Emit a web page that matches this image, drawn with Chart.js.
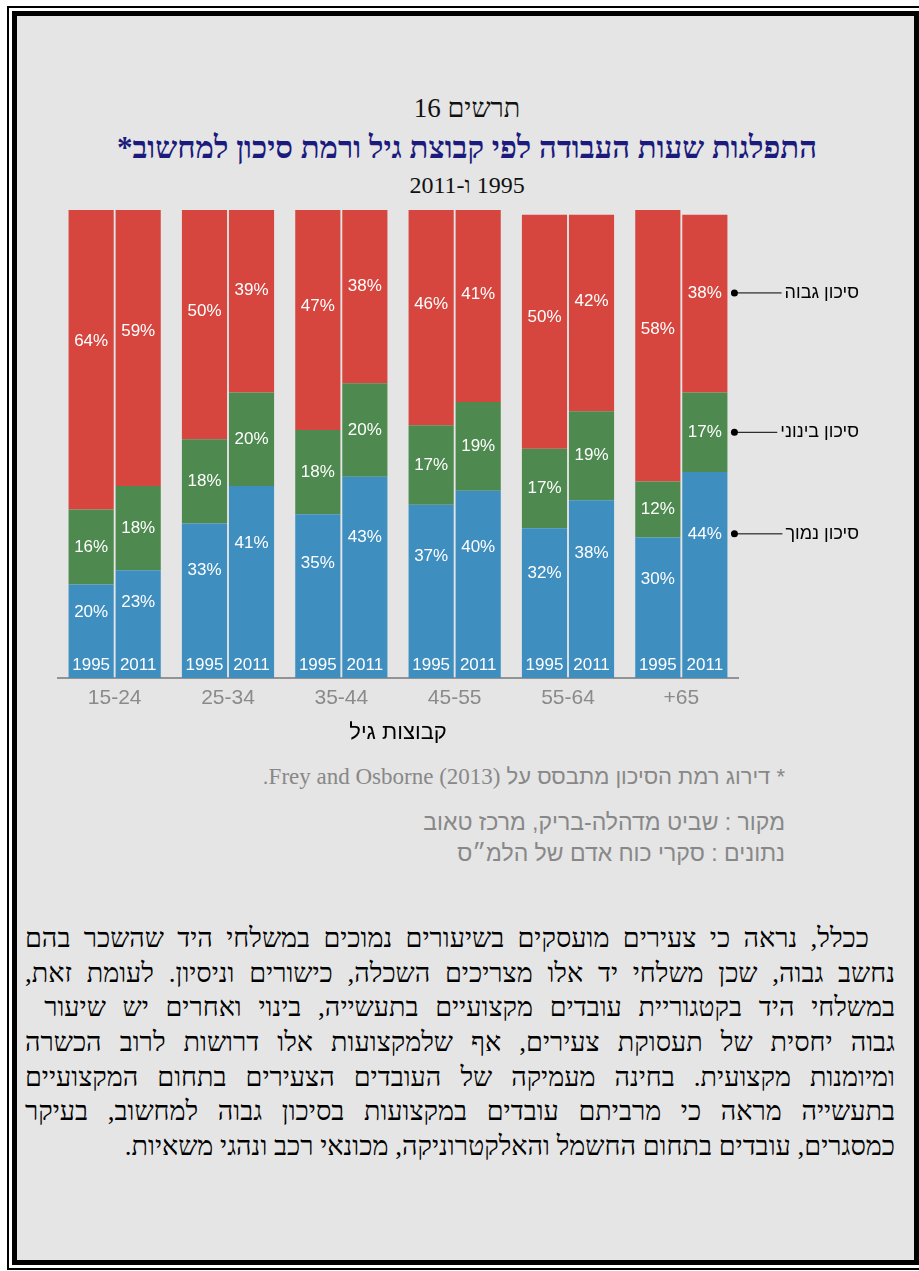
<!DOCTYPE html>
<html lang="he" dir="rtl">
<head>
<meta charset="utf-8">
<title>תרשים 16</title>
<script src="https://cdn.jsdelivr.net/npm/chart.js@4"></script>
<style>
  html, body { margin: 0; padding: 0; background: #fff; width: 919px; height: 1271px; overflow: hidden; }
  .frame-out { position: absolute; left: 7px; top: 6px; width: 930px; height: 1264px; border: 2px solid #000; box-sizing: border-box; }
  .frame-in { position: absolute; left: 12px; top: 11px; width: 907px; height: 1254px; border: 5px solid #000; box-sizing: border-box; background: #e5e5e5; }
  .txt { position: absolute; white-space: nowrap; }
  .center { left: 0; width: 934px; text-align: center; }
  #fig-no { top: 92px; font: 27px "Liberation Serif", serif; color: #111; line-height: 32px; }
  #fig-title { top: 130px; font: bold 31px "Liberation Serif", serif; color: #1b1b7e; line-height: 36px; }
  #fig-years { top: 169px; font: 24px "Liberation Serif", serif; color: #111; line-height: 32px; }
  #chart-box { position: absolute; left: 0; top: 200px; width: 919px; height: 550px; }
  .note { right: 134px; color: #888; font-family: "Liberation Sans", Arial, sans-serif; }
  .note .en { font-family: "Liberation Serif", serif; font-size: 23px; }
  #note1 { top: 763px; font-size: 22px; line-height: 28px; }
  #note2 { top: 808px; font-size: 23px; line-height: 28px; }
  #note3 { top: 839px; font-size: 23px; line-height: 28px; }
  #para { position: absolute; left: 25px; top: 921px; width: 870px; font: 27px "Liberation Serif", serif; color: #000; }
  #para div { height: 34.7px; line-height: 34.7px; white-space: nowrap; }
  #para .full { text-align: justify; text-align-last: justify; }
  #para .first { padding-right: 26px; }
  #para .short { text-align: right; }
  #para .wide { word-spacing: 10px; }
</style>
</head>
<body>
<div class="frame-out"></div>
<div class="frame-in"></div>

<div class="txt center" id="fig-no">תרשים 16</div>
<div class="txt center" id="fig-title">התפלגות שעות העבודה לפי קבוצת גיל ורמת סיכון למחשוב*</div>
<div class="txt center" id="fig-years">1995 ו-2011</div>

<div id="chart-box"><canvas id="chart"></canvas></div>

<div class="txt note" id="note1">* דירוג רמת הסיכון מתבסס על <span class="en">Frey and Osborne (2013)</span>.</div>
<div class="txt note" id="note2">מקור : שביט מדהלה-בריק, מרכז טאוב</div>
<div class="txt note" id="note3">נתונים : סקרי כוח אדם של הלמ״ס</div>

<div id="para">
  <div class="full first">ככלל, נראה כי צעירים מועסקים בשיעורים נמוכים במשלחי היד שהשכר בהם</div>
  <div class="full">נחשב גבוה, שכן משלחי יד אלו מצריכים השכלה, כישורים וניסיון. לעומת זאת,</div>
  <div class="short wide">במשלחי היד בקטגוריית עובדים מקצועיים בתעשייה, בינוי ואחרים יש שיעור</div>
  <div class="full">גבוה יחסית של תעסוקת צעירים, אף שלמקצועות אלו דרושות לרוב הכשרה</div>
  <div class="full">ומיומנות מקצועית. בחינה מעמיקה של העובדים הצעירים בתחום המקצועיים</div>
  <div class="full">בתעשייה מראה כי מרביתם עובדים במקצועות בסיכון גבוה למחשוב, בעיקר</div>
  <div class="short">כמסגרים, עובדים בתחום החשמל והאלקטרוניקה, מכונאי רכב ונהגי משאיות.</div>
</div>

<script>
// age groups on the x axis, two years side by side in each group
const ageGroups = ['15-24', '25-34', '35-44', '45-55', '55-64', '65+'];
const years = ['1995', '2011'];
const riskNames = ['סיכון נמוך', 'סיכון בינוני', 'סיכון גבוה'];

// share of work hours (%) by risk level
const low1995  = [20, 33, 35, 37, 32, 30];
const mid1995  = [16, 18, 18, 17, 17, 12];
const high1995 = [64, 50, 47, 46, 50, 58];
const low2011  = [23, 41, 43, 40, 38, 44];
const mid2011  = [18, 20, 20, 19, 19, 17];
const high2011 = [59, 39, 38, 41, 42, 38];

const riskColors = ['#3e8ec0', '#4e8a4f', '#d6463f'];
const labelPos = [0.3, 0.5, 0.44]; // where the % sits inside each segment, from its top

const seriesByYear = {
  '1995': [low1995, mid1995, high1995],
  '2011': [low2011, mid2011, high2011]
};

const datasets = [];
years.forEach(y => {
  seriesByYear[y].forEach((vals, lvl) => {
    datasets.push({
      label: riskNames[lvl] + ' ' + y,
      data: vals,
      stack: y,
      level: lvl,
      backgroundColor: riskColors[lvl],
      borderWidth: 0,
      categoryPercentage: 0.83,
      barPercentage: 0.96
    });
  });
});

const sansFont = '"Liberation Sans", Arial, sans-serif';

// % inside each segment, year at the foot of each bar
const barLabels = {
  id: 'barLabels',
  afterDatasetsDraw(chart) {
    const ctx = chart.ctx;
    const area = chart.chartArea;
    ctx.save();
    ctx.fillStyle = '#fff';
    ctx.textAlign = 'center';
    ctx.textBaseline = 'middle';
    ctx.font = '17px ' + sansFont;
    chart.data.datasets.forEach((ds, i) => {
      chart.getDatasetMeta(i).data.forEach((bar, j) => {
        const top = Math.max(Math.min(bar.y, bar.base), area.top);
        const bottom = Math.max(bar.y, bar.base);
        ctx.fillText(ds.data[j] + '%', bar.x, top + labelPos[ds.level] * (bottom - top));
        if (ds.level === 0) ctx.fillText(ds.stack, bar.x, bottom - 13);
      });
    });
    ctx.restore();
  }
};

// risk-level names pointing at the last bar
const sideLegend = {
  id: 'sideLegend',
  afterDraw(chart) {
    const ctx = chart.ctx;
    const area = chart.chartArea;
    const textRight = 859;
    ctx.save();
    ctx.font = '18px ' + sansFont;
    ctx.textBaseline = 'middle';
    ctx.textAlign = 'right';
    chart.data.datasets.forEach((ds, i) => {
      if (ds.stack !== years[years.length - 1]) return;
      const meta = chart.getDatasetMeta(i);
      const bar = meta.data[meta.data.length - 1];
      const top = Math.max(Math.min(bar.y, bar.base), area.top);
      const bottom = Math.max(bar.y, bar.base);
      const y = top + labelPos[ds.level] * (bottom - top);
      const x0 = bar.x + bar.width / 2 + 7;
      const name = riskNames[ds.level];
      const w = ctx.measureText(name).width;
      ctx.strokeStyle = '#000';
      ctx.fillStyle = '#000';
      ctx.lineWidth = 1;
      ctx.beginPath();
      ctx.moveTo(x0, y);
      ctx.lineTo(textRight - w - 3, y);
      ctx.stroke();
      ctx.beginPath();
      ctx.arc(x0, y, 3.5, 0, Math.PI * 2);
      ctx.fill();
      ctx.fillText(name, textRight, y);
    });
    ctx.restore();
  }
};

new Chart('chart', {
  type: 'bar',
  data: { labels: ageGroups, datasets },
  options: {
    responsive: true,
    maintainAspectRatio: false,
    animation: false,
    layout: { padding: { left: 58, right: 181, top: 10, bottom: 0 } },
    plugins: {
      legend: { display: false },
      tooltip: { enabled: false }
    },
    scales: {
      x: {
        stacked: true,
        grid: { display: false },
        border: { display: true, color: '#939393', width: 2 },
        ticks: { color: '#8a8a8a', font: { family: sansFont, size: 21 }, padding: 0 },
        title: { display: true, text: 'קבוצות גיל', color: '#000', font: { family: sansFont, size: 22 } },
        afterFit(scale) { scale.height = 72; }
      },
      y: {
        stacked: true,
        display: false,
        min: 0,
        max: 100
      }
    }
  },
  plugins: [barLabels, sideLegend]
});
</script>
</body>
</html>
